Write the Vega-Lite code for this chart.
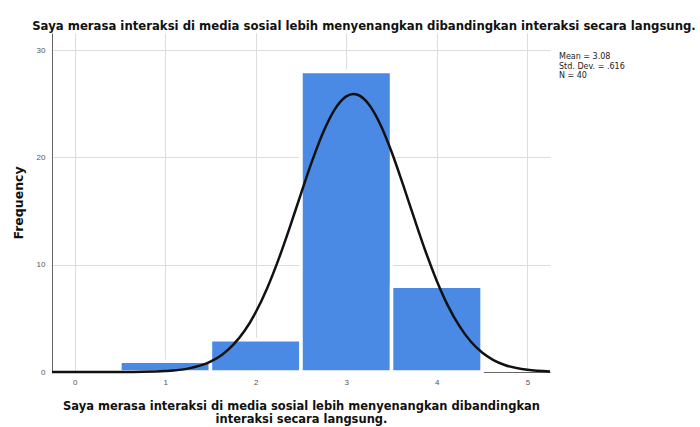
{
  "$schema": "https://vega.github.io/schema/vega-lite/v6.json",
  "width": 498,
  "height": 339,
  "autosize": {"type": "none"},
  "padding": {"left": 52, "top": 33, "right": 150, "bottom": 55},
  "background": "white",
  "config": {
    "font": "Liberation Sans",
    "view": {"stroke": null},
    "axis": {
      "labelFont": "Liberation Sans",
      "labelFontSize": 8,
      "labelColor": "#555555",
      "gridColor": "#dddddd",
      "gridWidth": 1,
      "domainColor": "#666666",
      "ticks": false,
      "titleFont": "DejaVu Sans",
      "titleFontSize": 11.5,
      "titleFontWeight": "bold",
      "titleColor": "#111111"
    }
  },
  "title": {
    "text": "Saya merasa interaksi di media sosial lebih menyenangkan dibandingkan interaksi secara langsung.",
    "fontSize": 11.7,
    "fontWeight": "bold",
    "font": "DejaVu Sans",
    "color": "#111111",
    "anchor": "middle",
    "dx": 63,
    "offset": 0
  },
  "layer": [
    {
      "data": {
        "values": [
          {"score": 1, "bin_start": 0.5, "bin_end": 1.5, "frequency": 1},
          {"score": 2, "bin_start": 1.5, "bin_end": 2.5, "frequency": 3},
          {"score": 3, "bin_start": 2.5, "bin_end": 3.5, "frequency": 28},
          {"score": 4, "bin_start": 3.5, "bin_end": 4.5, "frequency": 8}
        ]
      },
      "mark": {"type": "bar", "color": "#4a8ae4", "stroke": "white", "strokeWidth": 3.5},
      "encoding": {
        "x": {
          "field": "bin_start",
          "type": "quantitative",
          "scale": {"domain": [-0.25, 5.25], "nice": false, "zero": false},
          "axis": {
            "values": [0, 1, 2, 3, 4, 5],
            "format": "d",
            "labelPadding": 6,
            "titlePadding": 14,
            "titleLineHeight": 13.5,
            "domain": true
          },
          "title": ["Saya merasa interaksi di media sosial lebih menyenangkan dibandingkan", "interaksi secara langsung."]
        },
        "x2": {"field": "bin_end"},
        "y": {
          "field": "frequency",
          "type": "quantitative",
          "scale": {"domain": [0, 31.6], "nice": false},
          "axis": {"values": [0, 10, 20, 30], "labelPadding": 7, "titlePadding": 11, "titleFontSize": 12.5},
          "title": "Frequency"
        },
        "y2": {"datum": 0}
      }
    },
    {
      "data": {
        "values": [
          {"x": -0.25, "density": 0},
          {"x": 0, "density": 0.0001},
          {"x": 0.25, "density": 0.0007},
          {"x": 0.5, "density": 0.004},
          {"x": 0.75, "density": 0.02},
          {"x": 1.0, "density": 0.087},
          {"x": 1.25, "density": 0.314},
          {"x": 1.5, "density": 0.966},
          {"x": 1.625, "density": 1.59},
          {"x": 1.75, "density": 2.519},
          {"x": 1.875, "density": 3.82},
          {"x": 2.0, "density": 5.57},
          {"x": 2.125, "density": 7.79},
          {"x": 2.25, "density": 10.45},
          {"x": 2.375, "density": 13.46},
          {"x": 2.5, "density": 16.63},
          {"x": 2.625, "density": 19.72},
          {"x": 2.75, "density": 22.44},
          {"x": 2.875, "density": 24.51},
          {"x": 3.0, "density": 25.69},
          {"x": 3.08, "density": 25.905},
          {"x": 3.125, "density": 25.84},
          {"x": 3.25, "density": 24.94},
          {"x": 3.375, "density": 23.1},
          {"x": 3.5, "density": 20.53},
          {"x": 3.625, "density": 17.51},
          {"x": 3.75, "density": 14.34},
          {"x": 3.875, "density": 11.26},
          {"x": 4.0, "density": 8.49},
          {"x": 4.125, "density": 6.14},
          {"x": 4.25, "density": 4.27},
          {"x": 4.375, "density": 2.84},
          {"x": 4.5, "density": 1.817},
          {"x": 4.625, "density": 1.115},
          {"x": 4.75, "density": 0.657},
          {"x": 5.0, "density": 0.201},
          {"x": 5.25, "density": 0.052}
        ]
      },
      "mark": {"type": "line", "color": "#111111", "strokeWidth": 2.5, "interpolate": "monotone", "clip": false},
      "encoding": {
        "x": {"field": "x", "type": "quantitative"},
        "y": {"field": "density", "type": "quantitative"}
      }
    },
    {
      "data": {
        "values": [
          {"stat": "Mean = 3.08"},
          {"stat": "Std. Dev. = .616"},
          {"stat": "N = 40"}
        ]
      },
      "mark": {"type": "point", "opacity": 0},
      "encoding": {
        "x": {"datum": 3},
        "y": {"datum": 0},
        "color": {
          "field": "stat",
          "type": "nominal",
          "scale": {"domain": ["Mean = 3.08", "Std. Dev. = .616", "N = 40"], "range": ["#000000", "#000000", "#000000"]},
          "legend": {
            "title": null,
            "orient": "none",
            "legendX": 499,
            "legendY": 20,
            "symbolSize": 0,
            "symbolOpacity": 0,
            "symbolStrokeWidth": 0,
            "labelOffset": 0,
            "labelFontSize": 8,
            "labelFont": "DejaVu Sans",
            "labelColor": "#222222",
            "rowPadding": 1.5,
            "padding": 0
          }
        }
      }
    }
  ]
}
